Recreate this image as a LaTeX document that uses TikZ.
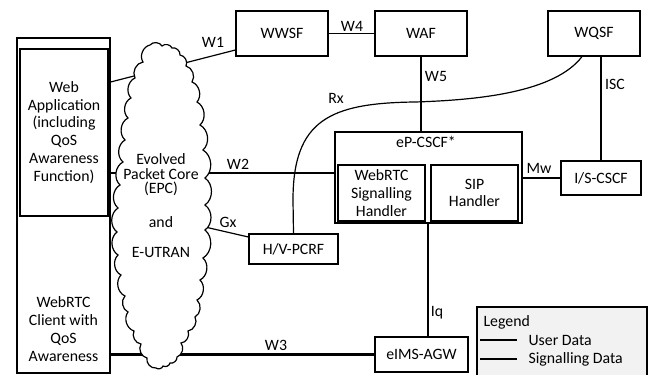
\documentclass[tikz,border=0pt]{standalone}
\usepackage{fontspec}
\setmainfont{Carlito}
\usetikzlibrary{positioning, calc}
\definecolor{legendfill}{RGB}{242,242,242}

\begin{document}
\begin{tikzpicture}[x=1pt, y=-1pt, line width=1.2pt,
    font=\fontsize{15.8}{17.8}\selectfont,
    box/.style={draw, rectangle, inner sep=0pt, align=center},
    lbl/.style={inner sep=0pt, align=center},
    sigline/.style={line width=1.2pt},
    userline/.style={line width=2.6pt}]
  \useasboundingbox (0,0) rectangle (649,375);

  % client side
  \node[box, minimum width=93pt, minimum height=335pt] (client) at (63.5,205.5) {};
  \node[box, minimum width=88pt, minimum height=167pt] (webapp) at (64,132.5)
    {Web\\Application\\(including\\QoS\\Awareness\\Function)};
  \node[lbl] (clienttxt) at (63.5,329) {WebRTC\\Client with\\QoS\\Awareness};

  % functions
  \node[box, minimum width=92pt, minimum height=45pt] (wwsf) at (282,33.5) {WWSF};
  \node[box, minimum width=92pt, minimum height=45pt] (waf) at (421,33.5) {WAF};
  \node[box, minimum width=92pt, minimum height=45pt] (wqsf) at (594,33.5) {WQSF};
  \node[box, minimum width=187pt, minimum height=91pt] (epcscf) at (428.5,177.5) {};
  \node[lbl] (epcscftxt) at (426,142) {eP-CSCF*};
  \node[box, minimum width=87pt, minimum height=56pt] (wsh) at (381.5,193) {WebRTC\\Signalling\\Handler};
  \node[box, minimum width=87pt, minimum height=56pt] (sip) at (474.5,193) {SIP\\Handler};
  \node[box, minimum width=80pt, minimum height=34pt] (iscscf) at (601,178) {I/S-CSCF};
  \node[box, minimum width=89pt, minimum height=30pt] (pcrf) at (293.5,249) {H/V-PCRF};
  \node[box, minimum width=93pt, minimum height=35pt] (agw) at (421.5,354.5) {eIMS-AGW};

  % reference points
  \draw[sigline] (client.east |- 0,82) -- (wwsf.west |- 0,50);
  \draw[sigline] (wwsf.east) -- (waf.west);
  \draw[sigline] (waf.south) -- (waf.south |- epcscf.north);
  \draw[sigline] (iscscf.north) -- (iscscf.north |- wqsf.south);
  \draw[sigline] (epcscf.east |- iscscf.west) -- (iscscf.west);
  \draw[sigline] (webapp.east |- 0,173) -- (epcscf.west |- 0,173);
  \draw[sigline] (205,227) -- (pcrf.west |- 0,237);
  \draw[sigline] ($(wqsf.south)+(-12,0)$) .. controls (555,92) and (480,100) .. (415,102)
    .. controls (330,103) and (293,120) .. (293,200) -- (pcrf.north);
  \draw[sigline] (428,223) -- (428,223 |- agw.north);
  \draw[userline] (client.east |- agw.west) -- (agw.west);

  % wolke
  \draw[line width=1.2pt, fill=white] (143,62)
    \foreach \cx/\cy in {150/45, 162/46, 172/48, 180/55, 186/66, 192/82, 197/102,
      200/125, 203/150, 205/178, 205/205, 205/230, 203/258, 200/280, 197/300,
      195/317, 188/331, 181/343, 177/357, 170/363, 163/366, 156/368, 147/358,
      141/344, 134/331, 128/312, 125/296, 121/275, 118/255, 117/232, 118/208,
      120/185, 123/162, 125/140, 128/118, 131/98, 135/78, 143/62}
    { to[bend left=55] (\cx,\cy) } -- cycle;
  \node[lbl, font=\fontsize{15.8}{14.5}\selectfont] (epc) at (161,175) {Evolved\\Packet Core\\(EPC)};
  \node[lbl] (epcand) at (161,222) {and};
  \node[lbl] (eutran) at (161,252) {E-UTRAN};

  % labels
  \node[lbl] (lw1) at (213,42) {W1};
  \node[lbl] (lw4) at (352,26) {W4};
  \node[lbl] (lw5) at (436,76) {W5};
  \node[lbl] (lisc) at (615,84) {ISC};
  \node[lbl] (lrx) at (336,98) {Rx};
  \node[lbl] (lmw) at (539,168) {Mw};
  \node[lbl] (lw2) at (238,164) {W2};
  \node[lbl] (lgx) at (228,222) {Gx};
  \node[lbl] (liq) at (437,313) {Iq};
  \node[lbl] (lw3) at (276,345) {W3};

  % legend
  \node[draw, fill=legendfill, minimum width=170pt, minimum height=72pt, inner sep=0pt] (legend) at (562,343) {};
  \node[lbl, anchor=west] (legtitle) at (483,322) {Legend};
  \node[lbl, anchor=west] (legud) at (528,340) {User Data};
  \node[lbl, anchor=west] (legsd) at (528,359) {Signalling Data};
  \draw[userline] ($(legud.west)+(-48,0)$) -- ($(legud.west)+(-11,0)$);
  \draw[sigline] ($(legsd.west)+(-48,0)$) -- ($(legsd.west)+(-11,0)$);
\end{tikzpicture}
\end{document}
